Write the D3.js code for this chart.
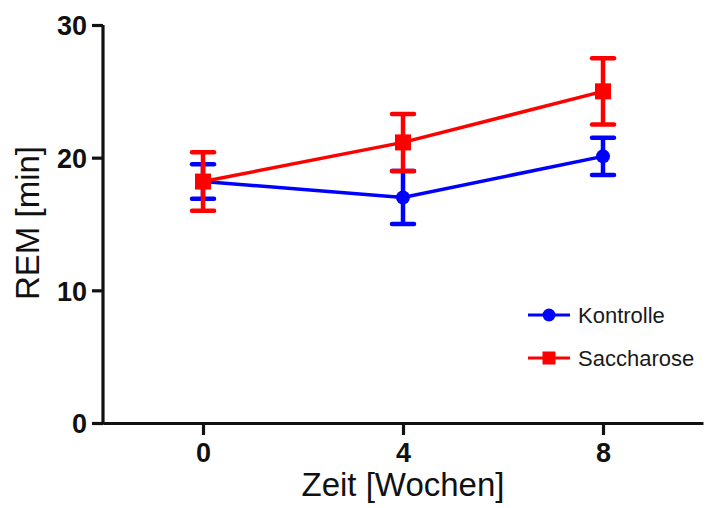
<!DOCTYPE html>
<html>
<head>
<meta charset="utf-8">
<script src="https://cdn.jsdelivr.net/npm/d3@7"></script>
<style>
  html, body { margin: 0; padding: 0; background: #fff; }
  svg { display: block; font-family: "Liberation Sans", Arial, sans-serif; }
</style>
</head>
<body>
<svg id="chart" width="705" height="508"></svg>
<script>
// Weeks of measurement
const weeks = [0, 4, 8];
const xTicks = [0, 4, 8];
const yTicks = [0, 10, 20, 30];

// REM sleep (min), mean ± SEM
const kontrolleMean = [18.2, 17.0, 20.1];
const kontrolleSem  = [1.3, 2.0, 1.4];
const saccharoseMean = [18.2, 21.15, 25.0];
const saccharoseSem  = [2.2, 2.15, 2.5];

const seriesNames = ["Kontrolle", "Saccharose"];
const seriesColors = ["#0000ff", "#ff0000"];

const svg = d3.select("#chart");

const x = d3.scaleLinear().domain([-2, 10]).range([103, 703]);
const y = d3.scaleLinear().domain([0, 30]).range([423, 25]);

const series = [
  { name: seriesNames[0], color: seriesColors[0], mean: kontrolleMean, sem: kontrolleSem, shape: "circle" },
  { name: seriesNames[1], color: seriesColors[1], mean: saccharoseMean, sem: saccharoseSem, shape: "square" }
];

// Axes
const xAxis = d3.axisBottom(x).tickValues(xTicks).tickSize(12).tickPadding(8).tickSizeOuter(0);
const yAxis = d3.axisLeft(y).tickValues(yTicks).tickSize(11).tickPadding(5).tickSizeOuter(0);

const gx = svg.append("g").attr("transform", `translate(0,${y(0)})`).call(xAxis);
const gy = svg.append("g").attr("transform", `translate(${x(-2)},0)`).call(yAxis);

[gx, gy].forEach(g => {
  g.select(".domain").attr("stroke", "#111").attr("stroke-width", 3.2);
  g.selectAll(".tick line").attr("stroke", "#111").attr("stroke-width", 3.2);
  g.selectAll(".tick text")
    .attr("fill", "#111")
    .attr("font-size", 27)
    .attr("font-weight", "bold")
    .attr("font-family", "'Liberation Sans', Arial, sans-serif");
});
gy.select(".domain").attr("d", `M0,${y(0) + 1.6}V${y(30)}`);
gy.selectAll(".tick text").attr("dy", "0.36em");

// Axis titles
svg.append("text")
  .attr("x", 403).attr("y", 496)
  .attr("text-anchor", "middle")
  .attr("font-size", 33)
  .attr("fill", "#111")
  .text("Zeit [Wochen]");

svg.append("text")
  .attr("transform", "translate(39,223) rotate(-90)")
  .attr("text-anchor", "middle")
  .attr("font-size", 33)
  .attr("fill", "#111")
  .text("REM [min]");

// Series: line, error bars, markers
const line = d3.line().x((d, i) => x(weeks[i])).y(d => y(d));
const capW = 11;

series.forEach(s => {
  const g = svg.append("g");
  g.append("path")
    .datum(s.mean)
    .attr("d", line)
    .attr("fill", "none")
    .attr("stroke", s.color)
    .attr("stroke-width", 3.5);

  const eb = g.selectAll(".eb").data(s.mean).enter().append("g");
  eb.append("line")
    .attr("x1", (d, i) => x(weeks[i])).attr("x2", (d, i) => x(weeks[i]))
    .attr("y1", (d, i) => y(d + s.sem[i])).attr("y2", (d, i) => y(d - s.sem[i]))
    .attr("stroke", s.color).attr("stroke-width", 4.5);
  [1, -1].forEach(sign => {
    eb.append("line")
      .attr("x1", (d, i) => x(weeks[i]) - capW).attr("x2", (d, i) => x(weeks[i]) + capW)
      .attr("y1", (d, i) => y(d + sign * s.sem[i])).attr("y2", (d, i) => y(d + sign * s.sem[i]))
      .attr("stroke", s.color).attr("stroke-width", 4.5).attr("stroke-linecap", "round");
  });

  if (s.shape === "circle") {
    g.selectAll(".pt").data(s.mean).enter().append("circle")
      .attr("cx", (d, i) => x(weeks[i])).attr("cy", d => y(d))
      .attr("r", 7).attr("fill", s.color);
  } else {
    g.selectAll(".pt").data(s.mean).enter().append("rect")
      .attr("x", (d, i) => x(weeks[i]) - 8).attr("y", d => y(d) - 8)
      .attr("width", 16).attr("height", 16).attr("fill", s.color);
  }
});

// Legend
const legend = svg.append("g");
series.forEach((s, i) => {
  const ly = 315 + i * 43;
  legend.append("line")
    .attr("x1", 528).attr("x2", 570).attr("y1", ly).attr("y2", ly)
    .attr("stroke", s.color).attr("stroke-width", 3);
  if (s.shape === "circle") {
    legend.append("circle").attr("cx", 549).attr("cy", ly).attr("r", 6.5).attr("fill", s.color);
  } else {
    legend.append("rect").attr("x", 542.5).attr("y", ly - 6.5).attr("width", 13).attr("height", 13).attr("fill", s.color);
  }
  legend.append("text")
    .attr("x", 578).attr("y", ly).attr("dy", "0.36em")
    .attr("font-size", 22).attr("fill", "#1a1a1a")
    .text(s.name);
});
</script>
</body>
</html>
